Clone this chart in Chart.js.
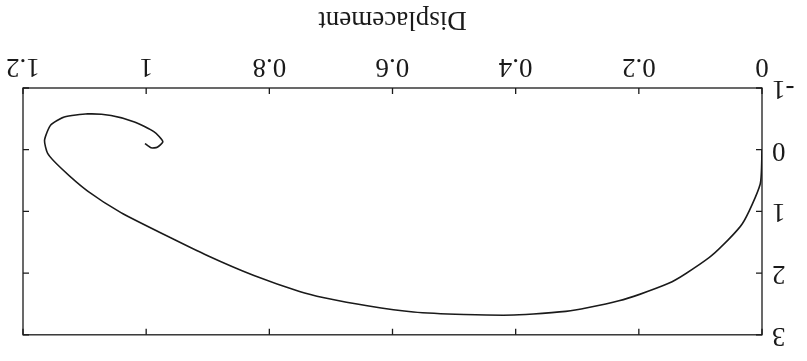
<!DOCTYPE html>
<html>
<head>
<meta charset="utf-8">
<script src="https://cdn.jsdelivr.net/npm/chart.js@4/dist/chart.umd.min.js"></script>
<style>
  html, body { margin: 0; padding: 0; background: #fff; }
  #phase { display: block; transform: rotate(180deg); }
</style>
</head>
<body>
<canvas id="phase" width="807" height="361"></canvas>
<script>
// trajectory (displacement, velocity)
const displacement = [0, 0.003, 0.032, 0.081, 0.146, 0.225, 0.311, 0.403, 0.484, 0.566, 0.641, 0.711,
    0.751, 0.825, 0.9, 0.976, 1.041, 1.095, 1.138, 1.16, 1.165, 1.155, 1.133, 1.095, 1.057,
    1.019, 0.987, 0.973, 0.982, 0.992, 1.002];
const velocity = [0, 0.56, 1.2, 1.71, 2.14, 2.43, 2.61, 2.68, 2.67, 2.63, 2.53, 2.4,
    2.3, 2.04, 1.72, 1.35, 1.02, 0.67, 0.3, 0.06, -0.155, -0.4, -0.53, -0.58, -0.555,
    -0.45, -0.29, -0.13, -0.04, -0.03, -0.1];
const xTicks = ['0', '0.2', '0.4', '0.6', '0.8', '1', '1.2'];
const yTicks = ['-1', '0', '1', '2', '3'];

const serif = { family: "'Liberation Serif', 'DejaVu Serif', serif", size: 27 };
const ink = '#1a1a1a';

// box round the plot with short ticks pointing inwards on every side
const frameTicks = {
    id: 'frameTicks',
    afterDraw(chart) {
        const { ctx, chartArea: a, scales: { x, y } } = chart;
        ctx.save();
        ctx.strokeStyle = ink;
        ctx.lineWidth = 1.3;
        ctx.strokeRect(a.left, a.top, a.right - a.left, a.bottom - a.top);
        ctx.beginPath();
        x.ticks.forEach(t => {
            const px = x.getPixelForValue(t.value);
            ctx.moveTo(px, a.bottom); ctx.lineTo(px, a.bottom - 6);
            ctx.moveTo(px, a.top); ctx.lineTo(px, a.top + 6);
        });
        y.ticks.forEach(t => {
            const py = y.getPixelForValue(t.value);
            ctx.moveTo(a.left, py); ctx.lineTo(a.left + 6, py);
            ctx.moveTo(a.right, py); ctx.lineTo(a.right - 6, py);
        });
        ctx.stroke();
        ctx.restore();
    }
};

new Chart(document.getElementById('phase'), {
    type: 'scatter',
    data: {
        datasets: [{
            data: displacement.map((d, i) => ({ x: d, y: velocity[i] })),
            showLine: true,
            borderColor: ink,
            borderWidth: 1.6,
            pointRadius: 0,
            tension: 0.2
        }]
    },
    options: {
        responsive: false,
        animation: false,
        layout: { padding: { left: 0, right: 23, top: 21, bottom: 0 } },
        plugins: { legend: { display: false }, tooltip: { enabled: false } },
        scales: {
            x: {
                min: 0, max: 1.2,
                grid: { display: false, drawTicks: false },
                border: { display: false },
                ticks: {
                    stepSize: 0.2,
                    color: ink,
                    font: serif,
                    padding: 6,
                    maxRotation: 0,
                    callback: (v, i) => xTicks[i]
                },
                title: {
                    display: true,
                    text: 'Displacement',
                    color: ink,
                    font: serif,
                    padding: { top: 4, bottom: 3 }
                },
                afterFit: s => { s.height = 88; }
            },
            y: {
                min: -1, max: 3,
                grid: { display: false, drawTicks: false },
                border: { display: false },
                ticks: {
                    stepSize: 1,
                    color: ink,
                    font: serif,
                    padding: 10,
                    callback: (v, i) => yTicks[i]
                },
                afterFit: s => { s.width = 45; }
            }
        }
    },
    plugins: [frameTicks]
});
</script>
</body>
</html>
